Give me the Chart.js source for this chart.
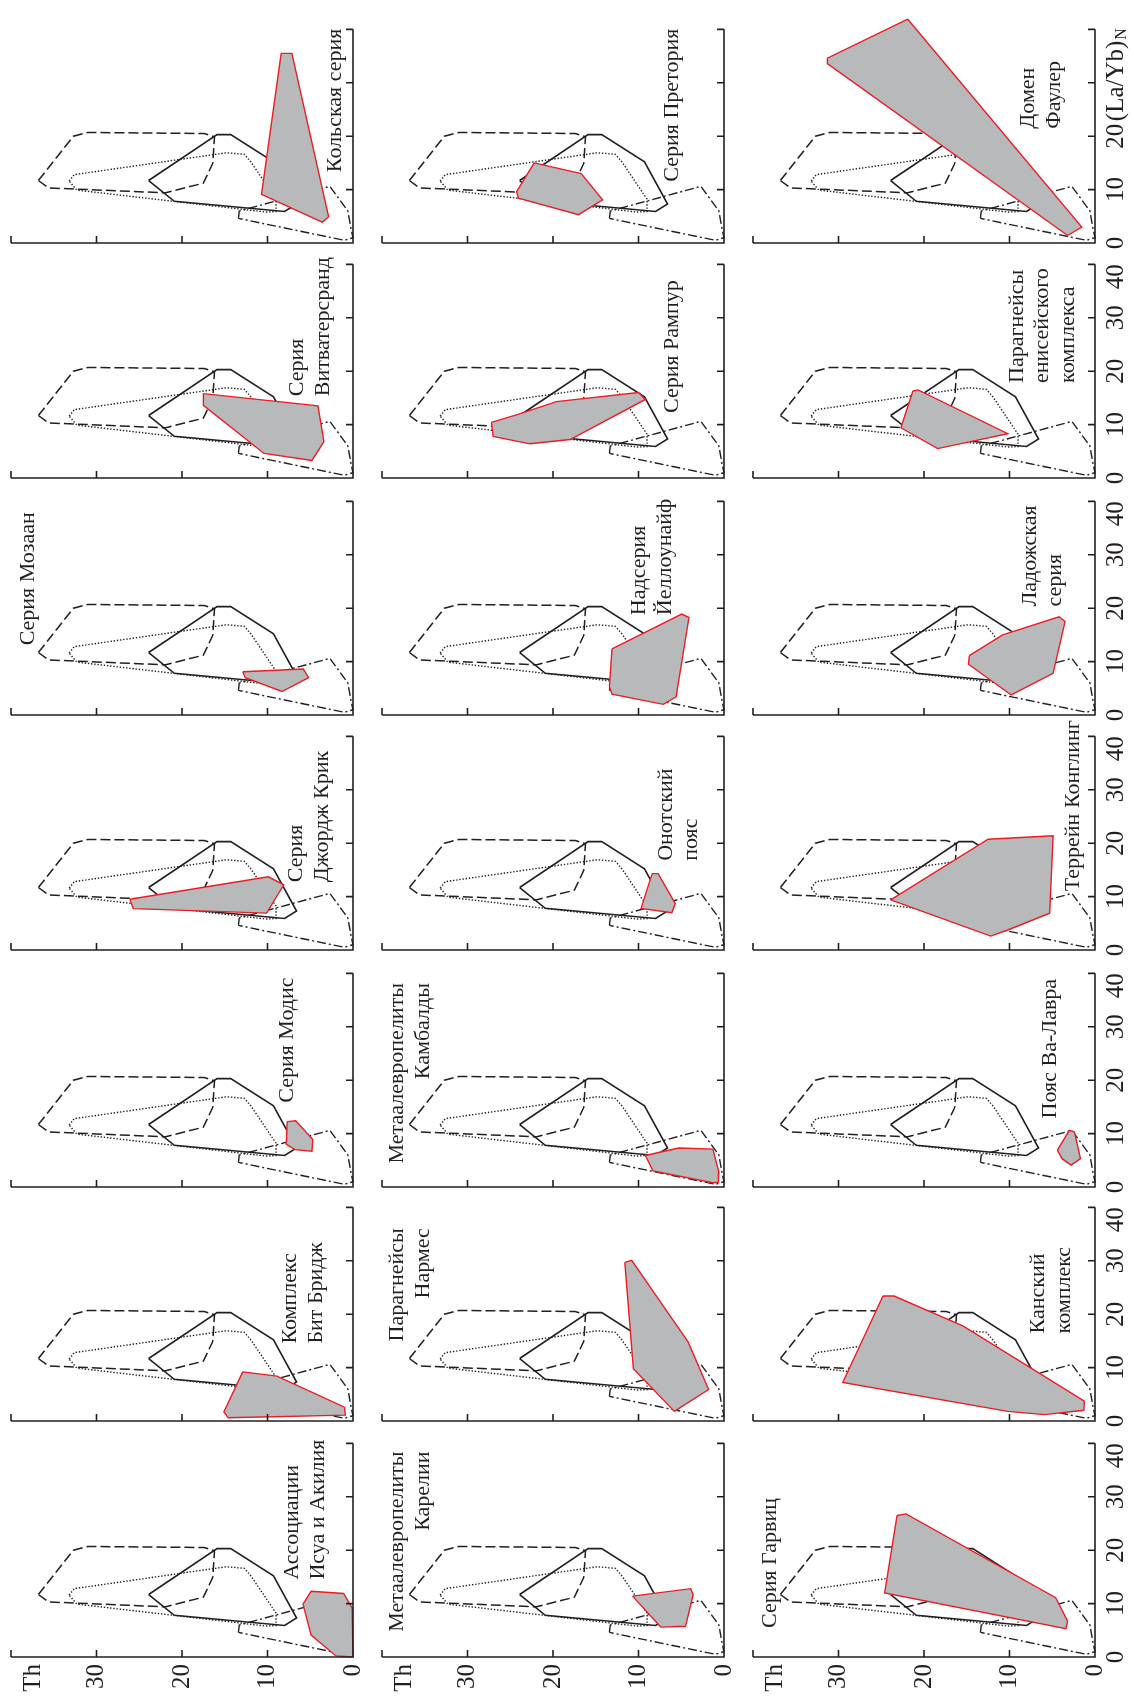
<!DOCTYPE html>
<html>
<head>
<meta charset="utf-8">
<title>Th – (La/Yb)N</title>
<script src="https://cdn.jsdelivr.net/npm/chart.js@4.4.1/dist/chart.umd.min.js"></script>
<style>
  html, body { margin: 0; padding: 0; background: #fff; }
  #page { position: relative; width: 1134px; height: 1699px; overflow: hidden; background: #fff; }
  #page canvas { position: absolute; }
</style>
</head>
<body>
<div id="page"></div>
<script>
// Reference fields, the same in every panel (Th vs (La/Yb)N)
const dashedTh    = [36.8, 32.7, 31.0, 17.4, 16.2, 16.4, 17.5, 21.9, 35.6];
const dashedLaYb  = [11.7, 20.0, 20.7, 20.5, 19.9, 14.9, 11.2, 9.4, 10.3];
const dottedTh    = [33.2, 32.6, 14.8, 12.7, 11.9, 9.0, 9.0, 10.2, 32.3];
const dottedLaYb  = [11.6, 12.8, 16.9, 16.6, 15.1, 8.2, 5.9, 5.8, 9.9];
const solidTh     = [23.9, 15.9, 14.3, 9.3, 6.6, 8.0, 20.9];
const solidLaYb   = [11.7, 20.3, 20.3, 15.2, 7.3, 5.9, 7.8];
const dashDotTh   = [13.4, 13.3, 2.7, 0.6, 0.2, 0.0, 1.0];
const dashDotLaYb = [4.6, 6.0, 10.6, 6.0, 2.4, 1.0, 0.5];

// Panels, page column by page column, top to bottom
const panelNames = [
  ['Кольская серия'],
  ['Серия', 'Витватерсранд'],
  ['Серия Мозаан'],
  ['Серия', 'Джордж Крик'],
  ['Серия Модис'],
  ['Комплекс', 'Бит Бридж'],
  ['Ассоциации', 'Исуа и Акилия'],
  ['Серия Претория'],
  ['Серия Рампур'],
  ['Надсерия', 'Йеллоунайф'],
  ['Онотский', 'пояс'],
  ['Метаалевропелиты', 'Камбалды'],
  ['Парагнейсы', 'Нармес'],
  ['Метаалевропелиты', 'Карелии'],
  ['Домен', 'Фаулер'],
  ['Парагнейсы', 'енисейского', 'комплекса'],
  ['Ладожская', 'серия'],
  ['Террейн Конглинг'],
  ['Пояс Ва-Лавра'],
  ['Канский', 'комплекс'],
  ['Серия Гарвиц']
];

// Th of each field outline
const panelTh = [
  [8.4, 7.15, 2.85, 3.6, 10.7],
  [17.5, 4.1, 3.4, 4.8, 10.4, 17.5],
  [12.9, 5.8, 5.2, 8.3, 12.6],
  [26.1, 9.9, 8.1, 10.1, 25.7],
  [7.7, 6.7, 4.7, 4.8, 6.8, 7.8],
  [12.9, 8.9, 1.0, 0.9, 14.6, 15.1],
  [5.85, 4.9, 1.1, 0.1, 0.0, 2.0, 4.9],
  [22.2, 16.7, 14.2, 17.0, 24.05, 24.25],
  [27.2, 24.1, 19.6, 10.0, 9.2, 18.0, 22.7, 27.0],
  [13.1, 4.95, 4.1, 5.6, 7.1, 13.1, 13.4],
  [8.4, 7.7, 5.7, 6.1, 9.7],
  [9.2, 5.3, 1.3, 0.6, 0.65, 1.3, 8.3],
  [11.6, 10.8, 4.2, 1.8, 5.8, 10.6],
  [10.7, 3.9, 3.6, 4.5, 7.4],
  [21.9, 1.55, 3.2, 31.3, 31.3],
  [21.3, 20.7, 10.2, 18.4, 22.7],
  [14.7, 10.8, 4.2, 3.5, 4.9, 9.8, 14.8],
  [23.9, 12.5, 4.9, 5.3, 10.2, 12.2],
  [4.4, 3.0, 2.4, 1.7, 2.8, 3.85],
  [24.8, 23.5, 15.4, 1.25, 1.3, 5.9, 10.2, 29.5],
  [23.15, 22.1, 4.6, 3.2, 3.4, 24.6]
];
// (La/Yb)N of each field outline
const panelLaYb = [
  [35.5, 35.5, 4.9, 3.9, 9.1],
  [15.8, 13.5, 6.8, 3.3, 4.6, 13.6],
  [8.1, 8.6, 7.0, 4.4, 7.0],
  [9.5, 13.7, 12.2, 6.9, 7.75],
  [12.25, 12.4, 8.9, 6.7, 7.0, 8.0],
  [9.2, 8.4, 2.6, 1.1, 0.6, 1.7],
  [9.9, 12.3, 11.9, 9.2, 0.0, 0.2, 4.1],
  [15.0, 13.0, 8.1, 5.3, 8.4, 9.6],
  [10.4, 11.9, 14.3, 16.0, 14.7, 7.2, 6.4, 7.8],
  [12.4, 18.9, 18.25, 3.4, 2.0, 3.9, 5.3],
  [14.3, 14.3, 8.7, 7.0, 7.8],
  [5.9, 7.3, 7.1, 2.8, 0.9, 0.8, 3.0],
  [29.7, 30.1, 14.8, 5.9, 1.8, 9.8],
  [11.4, 12.8, 11.7, 5.75, 5.6],
  [41.9, 3.0, 1.4, 33.6, 34.6],
  [16.3, 16.5, 8.3, 5.5, 9.4],
  [11.1, 15.0, 18.4, 17.5, 7.8, 3.75, 9.5],
  [9.4, 20.75, 21.4, 6.9, 3.75, 2.6],
  [6.9, 10.6, 10.3, 5.3, 4.1, 5.3],
  [23.4, 23.4, 17.75, 3.7, 2.0, 1.2, 1.8, 7.2],
  [26.5, 26.8, 11.1, 6.7, 5.3, 12.0]
];

const thTicks = [0, 10, 20, 30];
const laYbTicks = [0, 10, 20, 30, 40];

// where each panel name sits: first line centre (Th), start/centre/end along (La/Yb)N
const nameSpots = [
  {th: 2.1, ly: 26.7, align: 'center'},
  {th: 6.5, ly: 15.3, align: 'left'},
  {th: 38.0, ly: 25.5, align: 'center'},
  {th: 6.6, ly: 12.7, align: 'left'},
  {th: 7.75, ly: 27.5, align: 'center'},
  {th: 7.3, ly: 14.5, align: 'left'},
  {th: 7.1, ly: 14.5, align: 'left'},
  {th: 6.0, ly: 25.8, align: 'center'},
  {th: 6.0, ly: 24.6, align: 'center'},
  {th: 9.9, ly: 18.7, align: 'left'},
  {th: 6.8, ly: 16.7, align: 'left'},
  {th: 38.2, ly: 38.2, align: 'right'},
  {th: 38.2, ly: 36.1, align: 'right'},
  {th: 38.2, ly: 38.5, align: 'right'},
  {th: 7.8, ly: 21.4, align: 'left'},
  {th: 9.1, ly: 17.8, align: 'left'},
  {th: 7.6, ly: 20.3, align: 'left'},
  {th: 2.5, ly: 27.0, align: 'center'},
  {th: 5.2, ly: 25.9, align: 'center'},
  {th: 6.6, ly: 16.4, align: 'left'},
  {th: 38.0, ly: 17.6, align: 'center'}
];

const INK = '#231f20';
const RED = '#ed1c24';
const GREY = '#b8b9bb';
const SERIF = '"Liberation Serif", "Times New Roman", serif';

const colRight = [353, 724, 1095];
const rowBottom = [243, 478, 715, 950, 1187, 1421, 1657];
const AREA_W = 342, AREA_H = 235;          // 0..40 Th across, 0..44 (La/Yb)N up
const PAD_L = 6, PAD_T = 8, PAD_R = 38, PAD_B = 40;

function ring(th, ly) {
  const pts = th.map((t, k) => ({x: t, y: ly[k]}));
  pts.push(pts[0]);
  return pts;
}

function upText(ctx, text, x, y, align) {
  ctx.save();
  ctx.translate(x, y);
  ctx.rotate(-Math.PI / 2);
  ctx.textAlign = align;
  ctx.textBaseline = 'middle';
  ctx.fillText(text, 0, 0);
  ctx.restore();
}

const frame = {
  id: 'frame',
  afterDraw(chart, args, opts) {
    const {ctx} = chart;
    const xs = chart.scales.x, ys = chart.scales.y;
    const i = opts.panel, col = Math.floor(i / 7), row = i % 7;
    const x0 = xs.getPixelForValue(0), x40 = xs.getPixelForValue(40);
    const y0 = ys.getPixelForValue(0), y40 = ys.getPixelForValue(40);

    ctx.save();
    ctx.strokeStyle = INK;
    ctx.lineWidth = 1.6;
    ctx.beginPath();
    ctx.moveTo(x40, y0);
    ctx.lineTo(x0, y0);
    ctx.lineTo(x0, y40);
    [10, 20, 30, 40].forEach(v => {
      const px = xs.getPixelForValue(v);
      ctx.moveTo(px, y0);
      ctx.lineTo(px, y0 - 7);
      const py = ys.getPixelForValue(v);
      ctx.moveTo(x0, py);
      ctx.lineTo(x0 - 7, py);
    });
    ctx.stroke();

    // panel name
    ctx.fillStyle = INK;
    ctx.font = '22px ' + SERIF;
    const spot = nameSpots[i];
    panelNames[i].forEach((line, k) => {
      upText(ctx, line, xs.getPixelForValue(spot.th) + k * 25.5, ys.getPixelForValue(spot.ly), spot.align);
    });

    // Th axis numbers along the page bottom
    ctx.font = '25px ' + SERIF;
    if (row === 6) {
      thTicks.forEach(v => upText(ctx, String(v), xs.getPixelForValue(v), y0 + 7, 'right'));
      upText(ctx, 'Th', xs.getPixelForValue(37.4), y0 + 7, 'right');
    }

    // (La/Yb)N axis numbers along the page right edge
    if (col === 2) {
      const lx = x0 + 21;
      laYbTicks.forEach(v => {
        if (row === 0 && v > 20) return;
        const align = v === 40 ? 'right' : 'center';
        upText(ctx, String(v), lx, ys.getPixelForValue(v), align);
      });
      if (row === 0) {
        const start = ys.getPixelForValue(20) - 15;
        upText(ctx, '(La/Yb)', lx, start, 'left');
        const w = ctx.measureText('(La/Yb)').width;
        ctx.font = '16px ' + SERIF;
        upText(ctx, 'N', lx + 6, start - w - 1, 'left');
      }
    }
    ctx.restore();
  }
};

const page = document.getElementById('page');

function outline(th, ly, dash, width) {
  return {
    data: ring(th, ly),
    showLine: true,
    pointRadius: 0,
    borderColor: INK,
    borderWidth: width,
    borderDash: dash,
    fill: false,
    clip: false,
    order: 1
  };
}

for (let i = 0; i < panelNames.length; i++) {
  const col = Math.floor(i / 7), row = i % 7;
  const w = PAD_L + AREA_W + PAD_R, h = PAD_T + AREA_H + PAD_B;
  const canvas = document.createElement('canvas');
  canvas.width = w;
  canvas.height = h;
  canvas.style.width = w + 'px';
  canvas.style.height = h + 'px';
  canvas.style.left = (colRight[col] - AREA_W - PAD_L) + 'px';
  canvas.style.top = (rowBottom[row] - AREA_H - PAD_T) + 'px';
  page.appendChild(canvas);

  new Chart(canvas, {
    type: 'scatter',
    data: {
      datasets: [
        {
          data: ring(panelTh[i], panelLaYb[i]),
          showLine: true,
          pointRadius: 0,
          borderColor: RED,
          borderWidth: 1.4,
          backgroundColor: GREY,
          fill: 'shape',
          clip: false,
          order: 0
        },
        outline(solidTh, solidLaYb, [], 1.6),
        outline(dashedTh, dashedLaYb, [10, 4], 1.5),
        outline(dottedTh, dottedLaYb, [1.4, 1.8], 1.4),
        outline(dashDotTh, dashDotLaYb, [9, 3, 2, 3], 1.4)
      ]
    },
    options: {
      responsive: false,
      animation: false,
      events: [],
      devicePixelRatio: 1,
      layout: { padding: { left: PAD_L, top: PAD_T, right: PAD_R, bottom: PAD_B } },
      scales: {
        x: { type: 'linear', min: 0, max: 40, reverse: true, display: false },
        y: { type: 'linear', min: 0, max: 44, display: false }
      },
      plugins: {
        legend: { display: false },
        tooltip: { enabled: false },
        frame: { panel: i }
      }
    },
    plugins: [frame]
  });
}
</script>
</body>
</html>
